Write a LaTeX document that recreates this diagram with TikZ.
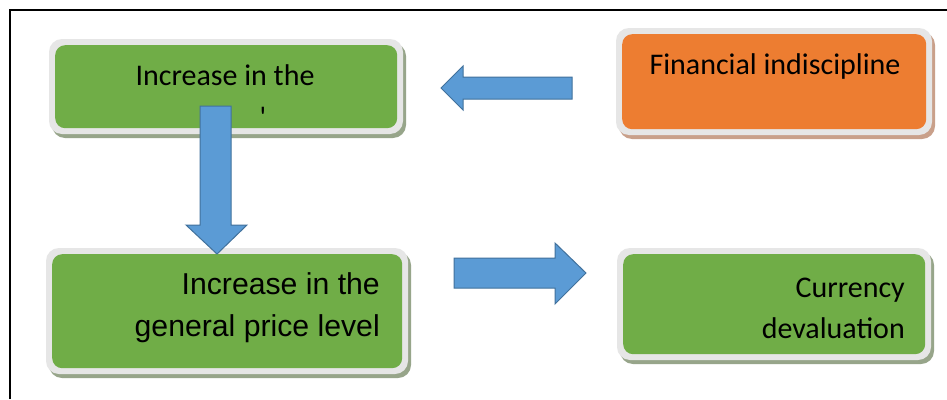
\documentclass[tikz,border=0pt]{standalone}
\usepackage{fontspec}
\setmainfont{Carlito}
\newfontfamily\arialf{Liberation Sans}
\definecolor{boxgreen}{HTML}{70AD47}
\definecolor{boxorange}{HTML}{ED7D31}
\definecolor{arrblue}{HTML}{5B9BD5}
\definecolor{arredge}{HTML}{41719C}
\definecolor{rimgray}{HTML}{E6E6E6}
\definecolor{greenshadow}{HTML}{97A58A}
\definecolor{orangeshadow}{HTML}{C9A08A}
\tikzset{
  rim/.style={fill=rimgray, rounded corners=13pt, draw=none},
  inner/.style={rounded corners=10pt, draw=none},
  barrow/.style={fill=arrblue, draw=arredge, line width=1pt, line join=miter},
  txt/.style={font=\fontsize{30}{42}\selectfont, inner sep=0pt, text=black},
  atxt/.style={font=\arialf\fontsize{30.2}{43}\selectfont, inner sep=0pt, text=black},
}
\newcommand{\fancybox}[6]{%
  \fill[\shadowcol, rounded corners=13pt] (#2+3,#3+4) rectangle (#4+3,#5+4);
  \fill[rim] (#2,#3) rectangle (#4,#5);
  \node[inner, fill=#6, inner sep=0pt, minimum width=#4-#2-12, minimum height=#5-#3-12, anchor=north west] (#1) at (#2+6,#3+6) {};
}
\begin{document}
\begin{tikzpicture}[x=1pt,y=-1pt]
\useasboundingbox (0,0) rectangle (947,399);
\fill[white] (0,0) rectangle (947,399);
% frame
\draw[line width=2pt] (10,399) -- (10,10) -- (948,10);

% boxes
\def\shadowcol{greenshadow}
\fancybox{b1}{49}{39}{403}{134}{boxgreen}
\def\shadowcol{orangeshadow}
\fancybox{b2}{616}{28}{932}{135}{boxorange}
\def\shadowcol{greenshadow}
\fancybox{b3}{46}{248}{408}{374}{boxgreen}
\def\shadowcol{greenshadow}
\fancybox{b4}{617}{248}{931}{360}{boxgreen}

% texts
\node[txt, anchor=base] (t1) at (225,85) {Increase in the};
\node[txt, anchor=base] (t1b) at (263,127) {\textquotesingle};
\node[txt, anchor=base] (t2) at (775,74) {Financial indiscipline};
\node[atxt, anchor=base east] (t3) at (380,294) {Increase in the};
\node[atxt, anchor=base east] (t3b) at (380,336) {general price level};
\node[txt, anchor=base east] (t4) at (905,297) {Currency};
\node[txt, anchor=base east] (t4b) at (905,338) {devaluation};

% arrows
\draw[barrow] (572,77) -- (463,77) -- (463,66) -- (441,88) -- (463,110) -- (463,99) -- (572,99) -- cycle;
\draw[barrow] (200,106) -- (231,106) -- (231,225) -- (247,225) -- (217,254) -- (186,225) -- (200,225) -- cycle;
\draw[barrow] (454,258) -- (555,258) -- (555,243) -- (586,273) -- (555,304) -- (555,288) -- (454,288) -- cycle;
\end{tikzpicture}
\end{document}
